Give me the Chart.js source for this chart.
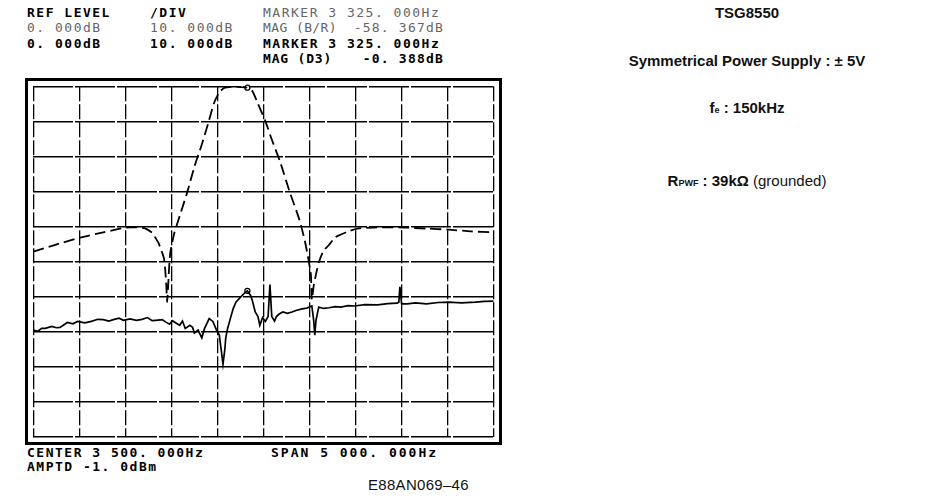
<!DOCTYPE html>
<html>
<head>
<meta charset="utf-8">
<script src="https://cdn.jsdelivr.net/npm/chart.js@4/dist/chart.umd.min.js"></script>
<style>
body{margin:0;background:#fff;width:950px;height:500px;position:relative;overflow:hidden}
.t{position:absolute;font-family:"DejaVu Sans Mono",monospace;font-size:13px;letter-spacing:1.5px;color:#000;white-space:pre;line-height:1;font-weight:bold}
.v{position:absolute;right:506px;font-family:"DejaVu Sans Mono",monospace;font-size:13px;letter-spacing:1.2px;color:#000;white-space:pre;line-height:1;font-weight:bold}
.f{color:#666;font-weight:normal}
.n{position:absolute;left:747px;transform:translateX(-50%);font-family:"Liberation Sans",Arial,sans-serif;font-weight:bold;font-size:15px;white-space:pre;line-height:1;color:#111}
.n small{font-size:9px}
.n .r{font-weight:normal}
#frame{position:absolute;left:25px;top:78px;width:471px;height:361px;border:3px solid #000}
#code{position:absolute;left:368px;top:477px;font-family:"Liberation Sans",Arial,sans-serif;font-size:15px;letter-spacing:0.3px;line-height:1;color:#111}
</style>
</head>
<body>
<div class="t" style="left:27px;top:6px">REF LEVEL</div>
<div class="t" style="left:150px;top:6px">/DIV</div>
<div class="t f" style="left:263px;top:6px">MARKER 3 325. 000Hz</div>
<div class="t f" style="left:27px;top:21px">0. 000dB</div>
<div class="t f" style="left:150px;top:21px">10. 000dB</div>
<div class="t f" style="left:263px;top:21px;letter-spacing:0.4px">MAG (B/R)</div>
<div class="v f" style="top:21px">-58. 367dB</div>
<div class="t" style="left:27px;top:37px">0. 000dB</div>
<div class="t" style="left:150px;top:37px">10. 000dB</div>
<div class="t" style="left:263px;top:37px">MARKER 3 325. 000Hz</div>
<div class="t" style="left:263px;top:52px;letter-spacing:0.8px">MAG (D3)</div>
<div class="v" style="top:52px">-0. 388dB</div>

<div id="frame"><canvas id="c" width="471" height="361"></canvas></div>

<div class="t" style="left:27px;top:446px">CENTER 3 500. 000Hz</div>
<div class="t" style="left:271px;top:446px;letter-spacing:2px">SPAN 5 000. 000Hz</div>
<div class="t" style="left:27px;top:460px">AMPTD -1. 0dBm</div>
<div id="code">E88AN069–46</div>

<div class="n" style="top:5px">TSG8550</div>
<div class="n" style="top:53px">Symmetrical Power Supply : ± 5V</div>
<div class="n" style="top:100px">f<small>e</small> : 150kHz</div>
<div class="n" style="top:173px">R<small>PWF</small> : 39kΩ <span class="r">(grounded)</span></div>

<script>
// frequency axis: center 3500 Hz, span 5000 Hz, 500 Hz/div
const X_MIN = 1000, X_MAX = 6000, X_STEP = 500;
// magnitude axis: ref level 0 dB, 10 dB/div
const Y_MIN = -100, Y_MAX = 0, Y_STEP = 10;

// dashed trace: filter response
const dashFreq = [1000,1230,1520,1760,2010,2140,2220,2300,2330,2360,2380,2400,2420,2433,2444,2454,2465,2486,2530,2590,2670,2750,2830,2900,2960,3020,3080,3170,3250,3325,3380,3440,3520,3590,3680,3780,3890,3950,3990,4015,4025,4047,4080,4100,4150,4210,4280,4340,4420,4520,4700,5020,5270,5510,5750,6000];
const dashMag  = [-47.2,-45.3,-43.1,-41.7,-40.3,-40.3,-40.6,-42.0,-43.4,-44.7,-46.1,-47.5,-49.2,-52.5,-56.6,-61.6,-56.6,-47.8,-42.0,-37.0,-30.4,-22.9,-16.6,-10.5,-5.0,-1.7,-0.4,-0.1,-0.2,-0.39,-1.4,-5.0,-9.9,-15.2,-21.5,-29.8,-38.1,-44.2,-49.7,-53.9,-60.8,-56.6,-52.5,-50.3,-47.0,-45.3,-43.1,-42.3,-41.4,-40.6,-40.3,-40.3,-40.6,-40.9,-41.4,-41.7];

// solid trace
const solidFreq = [1000,1050,1090,1130,1200,1250,1290,1370,1430,1480,1560,1630,1700,1760,1820,1870,1930,1980,2050,2120,2180,2240,2290,2330,2400,2440,2480,2510,2540,2590,2620,2650,2700,2730,2750,2790,2830,2860,2910,2950,2990,3020,3040,3060,3080,3090,3110,3140,3170,3200,3250,3290,3325,3360,3380,3410,3440,3460,3490,3520,3550,3570,3590,3620,3640,3670,3710,3760,3810,3860,3920,3970,4025,4045,4057,4070,4100,4150,4210,4280,4340,4420,4490,4600,4740,4850,4950,4970,4981,5000,5060,5150,5270,5400,5510,5650,5800,5900,6000];
const solidMag  = [-69.6,-69.9,-69.1,-69.1,-68.5,-68.9,-68.8,-67.4,-67.8,-67.1,-67.5,-67.1,-66.5,-66.6,-67.0,-66.6,-66.2,-66.8,-66.4,-66.8,-66.5,-66.0,-66.9,-66.8,-66.6,-67.3,-67.9,-66.9,-67.4,-68.2,-67.0,-69.1,-68.2,-68.8,-70.4,-69.6,-71.8,-69.1,-66.3,-67.1,-69.6,-71.0,-75.1,-79.3,-75.1,-71.8,-69.1,-66.3,-63.5,-61.6,-60.2,-59.1,-58.4,-59.7,-61.3,-64.4,-65.7,-68.2,-66.0,-67.1,-65.7,-56.6,-65.7,-67.0,-65.7,-65.0,-64.4,-64.8,-64.4,-63.9,-63.5,-63.3,-62.7,-66.8,-71.0,-66.8,-63.0,-63.4,-63.2,-62.9,-63.0,-62.6,-62.7,-62.3,-62.4,-62.0,-61.9,-61.6,-57.2,-62.1,-62.1,-61.8,-62.1,-61.7,-61.6,-61.8,-61.6,-61.4,-61.3];

// markers
const markerFreq = [3325, 3325];
const markerMag  = [-58.367, -0.388];

const pts = (xs, ys) => xs.map((x, i) => ({x, y: ys[i]}));

new Chart(document.getElementById('c'), {
  type: 'line',
  data: {datasets: [
    {data: pts(dashFreq, dashMag), borderColor:'#000', borderWidth:1.8, borderDash:[11,5], pointRadius:0, tension:0.2},
    {data: pts(solidFreq, solidMag), borderColor:'#000', borderWidth:1.7, pointRadius:0, tension:0},
    {data: pts(markerFreq, markerMag), showLine:false, pointRadius:2.5, pointBorderWidth:1.3, pointBorderColor:'#000', pointBackgroundColor:'#fff', clip:false}
  ]},
  options: {
    responsive:false, animation:false, devicePixelRatio:1,
    layout:{padding:0},
    plugins:{legend:{display:false}, tooltip:{enabled:false}},
    scales:{
      x:{type:'linear', min:X_MIN, max:X_MAX, ticks:{display:false, stepSize:X_STEP},
         grid:{color:'#000', lineWidth:1.3, drawTicks:false}, border:{display:false, dash:[15,3]}},
      y:{type:'linear', min:Y_MIN, max:Y_MAX, ticks:{display:false, stepSize:Y_STEP},
         grid:{color:'#000', lineWidth:1.4, drawTicks:false}, border:{display:false, dash:[40,2]}}
    }
  }
});
</script>
</body>
</html>
